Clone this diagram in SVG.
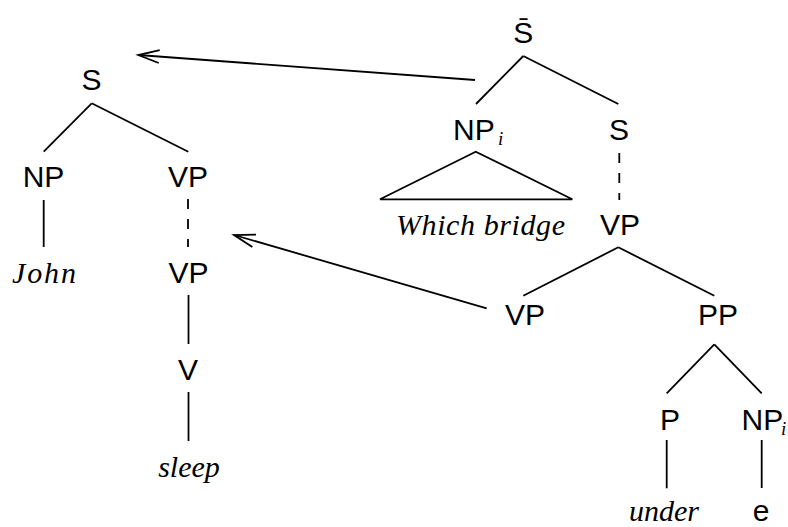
<svg xmlns="http://www.w3.org/2000/svg" width="788" height="527" viewBox="0 0 788 527">
<style>
  .lbl { font-family: "Liberation Sans", Arial, sans-serif; font-size: 30px; fill: #000; text-anchor: middle; }
  .word { font-family: "Liberation Serif", "Times New Roman", serif; font-style: italic; font-size: 30px; fill: #000; text-anchor: middle; }
  .sub { font-family: "Liberation Serif", "Times New Roman", serif; font-style: italic; font-size: 19px; }
  .edge { stroke: #000; stroke-width: 1.8; fill: none; stroke-linecap: butt; }
  .dash { stroke-dasharray: 10 10; }
  .arrow { stroke: #000; stroke-width: 1.8; fill: none; marker-end: url(#open); }
</style>
<defs>
  <marker id="open" markerUnits="userSpaceOnUse" viewBox="-24 -10 28 20" refX="0" refY="0" markerWidth="28" markerHeight="20" orient="auto" overflow="visible">
    <path d="M-21,-6.5 L0,0 L-21,6.5" fill="none" stroke="#000" stroke-width="1.8"/>
  </marker>
</defs>
<rect width="788" height="527" fill="#fff"/>

<g id="connectors">
  <line class="edge" x1="91.7" y1="103.3" x2="43.7" y2="151.7"/>
  <line class="edge" x1="91.7" y1="103.3" x2="188.3" y2="151.7"/>
  <line class="edge" x1="43.7" y1="200" x2="43.7" y2="247"/>
  <line class="edge dash" x1="188" y1="199" x2="188" y2="247"/>
  <line class="edge" x1="188.5" y1="295" x2="188.5" y2="344"/>
  <line class="edge" x1="188.5" y1="392" x2="188.5" y2="441"/>
  <line class="edge" x1="523.3" y1="56" x2="476" y2="104"/>
  <line class="edge" x1="523.3" y1="56" x2="618.3" y2="104"/>
  <polygon class="edge" points="475.7,151.7 380,199.3 572.3,199.3"/>
  <line class="edge dash" x1="619.3" y1="153" x2="619.3" y2="200"/>
  <line class="edge" x1="618.3" y1="247.3" x2="523.3" y2="295.7"/>
  <line class="edge" x1="618.3" y1="247.3" x2="714.3" y2="295.7"/>
  <line class="edge" x1="714.3" y1="344.3" x2="666.7" y2="393.3"/>
  <line class="edge" x1="714.3" y1="344.3" x2="761.7" y2="393.3"/>
  <line class="edge" x1="666.7" y1="440" x2="666.7" y2="488.3"/>
  <line class="edge" x1="761.7" y1="440" x2="761.7" y2="488"/>
  <line class="arrow" x1="475" y1="80" x2="138.3" y2="55"/>
  <line class="arrow" x1="486.7" y1="308.3" x2="234" y2="235"/>
</g>

<g id="n-S-left"><text class="lbl" x="91.5" y="90">S</text></g>
<g id="n-NP-left"><text class="lbl" x="43.5" y="187">NP</text></g>
<g id="n-VP-left"><text class="lbl" x="188" y="187">VP</text></g>
<g id="n-John"><text class="word" x="44" y="283" textLength="64" lengthAdjust="spacing">John</text></g>
<g id="n-VP-left2"><text class="lbl" x="188.5" y="283">VP</text></g>
<g id="n-V"><text class="lbl" x="188" y="380">V</text></g>
<g id="n-sleep"><text class="word" x="189" y="477">sleep</text></g>

<g id="n-Sbar"><text class="lbl" x="523.3" y="43">S&#x0304;</text></g>
<g id="n-NPi"><text class="lbl" x="453" y="140" style="text-anchor:start">NP<tspan class="sub" x="498" y="145">i</tspan></text></g>
<g id="n-S-right"><text class="lbl" x="619" y="140">S</text></g>
<g id="n-which"><text class="word" x="480.5" y="235" textLength="169" lengthAdjust="spacing">Which bridge</text></g>
<g id="n-VP-right"><text class="lbl" x="620" y="235">VP</text></g>
<g id="n-VP-lower"><text class="lbl" x="525" y="325">VP</text></g>
<g id="n-PP"><text class="lbl" x="718" y="325">PP</text></g>
<g id="n-P"><text class="lbl" x="670" y="430">P</text></g>
<g id="n-NPi-right"><text class="lbl" x="741.5" y="430" style="text-anchor:start">NP<tspan class="sub" x="781" y="435">i</tspan></text></g>
<g id="n-under"><text class="word" x="664" y="521">under</text></g>
<g id="n-e"><text class="lbl" x="761" y="521">e</text></g>
</svg>
